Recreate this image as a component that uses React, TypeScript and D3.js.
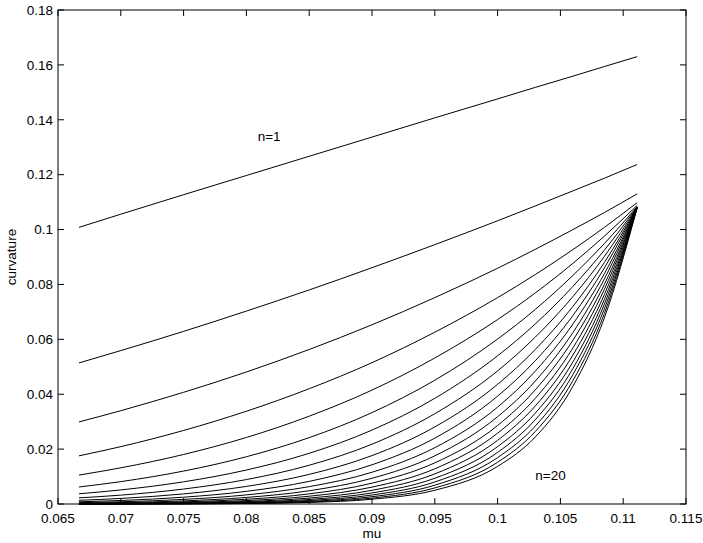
import React from "react";
import * as d3 from "d3";

const mu = [0.066667, 0.07, 0.075, 0.08, 0.085, 0.09, 0.095, 0.1, 0.103, 0.106, 0.1085, 0.111111];

const n1 = [0.1008, 0.1056, 0.1127, 0.1197, 0.1267, 0.1337, 0.1407, 0.1476, 0.1518, 0.1559, 0.1594, 0.163];
const n2 = [0.0514, 0.0559, 0.0629, 0.0703, 0.078, 0.0861, 0.0945, 0.1032, 0.1086, 0.1141, 0.1187, 0.1237];
const n3 = [0.0299, 0.034, 0.0407, 0.0481, 0.0563, 0.0653, 0.0752, 0.0859, 0.0928, 0.1, 0.1062, 0.113];
const n4 = [0.01755, 0.0209, 0.0268, 0.0338, 0.042, 0.0515, 0.0626, 0.0752, 0.0836, 0.0927, 0.1008, 0.1098];
const n5 = [0.01054, 0.01318, 0.01805, 0.02424, 0.032, 0.0415, 0.0532, 0.0672, 0.0769, 0.0877, 0.0976, 0.1088];
const n6 = [0.0062, 0.00815, 0.012, 0.01722, 0.02418, 0.0333, 0.0451, 0.0601, 0.0709, 0.0833, 0.0949, 0.1084];
const n7 = [0.00372, 0.00513, 0.00808, 0.01238, 0.01847, 0.02693, 0.0385, 0.054, 0.0656, 0.0793, 0.0925, 0.1082];
const n8 = [0.00223, 0.00323, 0.00545, 0.0089, 0.01412, 0.02179, 0.0329, 0.0485, 0.0608, 0.0756, 0.0902, 0.1081];
const n9 = [0.001335, 0.00203, 0.00368, 0.00641, 0.01079, 0.01764, 0.02808, 0.0436, 0.0563, 0.072, 0.088, 0.108];
const n10 = [0.000801, 0.00128, 0.00248, 0.00461, 0.00825, 0.01429, 0.024, 0.0393, 0.0522, 0.0687, 0.086, 0.108];
const n11 = [0.000481, 0.000806, 0.001675, 0.00332, 0.00632, 0.01157, 0.02053, 0.0353, 0.0484, 0.0656, 0.0839, 0.108];
const n12 = [0.000288, 0.000508, 0.00113, 0.00239, 0.00483, 0.00937, 0.01755, 0.0318, 0.0448, 0.0625, 0.082, 0.108];
const n13 = [0.000173, 0.00032, 0.000763, 0.00172, 0.00369, 0.00759, 0.015, 0.0286, 0.0416, 0.0597, 0.08, 0.108];
const n14 = [0.000104, 0.000202, 0.000515, 0.00124, 0.00283, 0.00615, 0.01283, 0.0258, 0.0385, 0.0569, 0.0782, 0.108];
const n15 = [0.0000623, 0.000127, 0.000348, 0.000892, 0.00216, 0.00498, 0.01097, 0.0232, 0.0357, 0.0543, 0.0763, 0.108];
const n16 = [0.0000374, 0.00008, 0.000235, 0.000643, 0.001654, 0.00403, 0.00938, 0.0209, 0.0331, 0.0518, 0.0745, 0.108];
const n17 = [0.0000224, 0.0000504, 0.000159, 0.000463, 0.001265, 0.00327, 0.00802, 0.0188, 0.0307, 0.0494, 0.0728, 0.108];
const n18 = [0.0000135, 0.0000318, 0.000107, 0.000333, 0.000968, 0.00265, 0.00686, 0.0169, 0.0284, 0.0472, 0.0711, 0.108];
const n19 = [0.0000081, 0.00002, 0.0000722, 0.00024, 0.00074, 0.00214, 0.00586, 0.0152, 0.0264, 0.045, 0.0694, 0.108];
const n20 = [0.0000048, 0.0000126, 0.0000487, 0.000173, 0.000566, 0.00174, 0.00501, 0.0137, 0.0244, 0.0429, 0.0678, 0.108];

const series = [n1, n2, n3, n4, n5, n6, n7, n8, n9, n10, n11, n12, n13, n14, n15, n16, n17, n18, n19, n20];

const xTicks = [0.065, 0.07, 0.075, 0.08, 0.085, 0.09, 0.095, 0.1, 0.105, 0.11, 0.115];
const xTickLabels = ["0.065", "0.07", "0.075", "0.08", "0.085", "0.09", "0.095", "0.1", "0.105", "0.11", "0.115"];
const yTicks = [0, 0.02, 0.04, 0.06, 0.08, 0.1, 0.12, 0.14, 0.16, 0.18];
const yTickLabels = ["0", "0.02", "0.04", "0.06", "0.08", "0.1", "0.12", "0.14", "0.16", "0.18"];

const annotations = [
  { text: "n=1", x: 0.0809, y: 0.1323 },
  { text: "n=20", x: 0.103, y: 0.0088 },
];

const W = 703;
const H = 543;
const left = 58;
const right = 686;
const top = 10;
const bottom = 504;
const font = "Liberation Sans, Arial, Helvetica, sans-serif";

export default function App() {
  const x = d3.scaleLinear().domain([0.065, 0.115]).range([left, right]);
  const y = d3.scaleLinear().domain([0, 0.18]).range([bottom, top]);
  const line = d3
    .line<number>()
    .x((_, i) => x(mu[i]))
    .y((d) => y(d))
    .curve(d3.curveMonotoneX);
  const tl = 6;
  return (
    <svg width={W} height={H} style={{ position: "absolute", left: 0, top: 0, background: "#fff" }}>
      <rect x={0} y={0} width={W} height={H} fill="#fff" />
      <g fill="none" stroke="#000" strokeWidth={1}>
        {series.map((s, i) => (
          <path key={i} d={line(s) || ""} />
        ))}
      </g>
      <rect x={left} y={top} width={right - left} height={bottom - top} fill="none" stroke="#000" strokeWidth={1} />
      <g stroke="#000" strokeWidth={1}>
        {xTicks.map((t, i) => (
          <g key={i}>
            <line x1={x(t)} x2={x(t)} y1={bottom} y2={bottom - tl} />
            <line x1={x(t)} x2={x(t)} y1={top} y2={top + tl} />
          </g>
        ))}
        {yTicks.map((t, i) => (
          <g key={i}>
            <line x1={left} x2={left + tl} y1={y(t)} y2={y(t)} />
            <line x1={right} x2={right - tl} y1={y(t)} y2={y(t)} />
          </g>
        ))}
      </g>
      <g fontFamily={font} fontSize={13.5} fill="#000">
        {xTicks.map((t, i) => (
          <text key={i} x={x(t)} y={bottom + 19} textAnchor="middle">
            {xTickLabels[i]}
          </text>
        ))}
        {yTicks.map((t, i) => (
          <text key={i} x={left - 5} y={y(t)} dy="0.35em" textAnchor="end">
            {yTickLabels[i]}
          </text>
        ))}
        <text x={(left + right) / 2} y={538} textAnchor="middle">mu</text>
        <text transform={`translate(16,${(top + bottom) / 2}) rotate(-90)`} textAnchor="middle">curvature</text>
        {annotations.map((a, i) => (
          <text key={i} x={x(a.x)} y={y(a.y)}>
            {a.text}
          </text>
        ))}
      </g>
    </svg>
  );
}
